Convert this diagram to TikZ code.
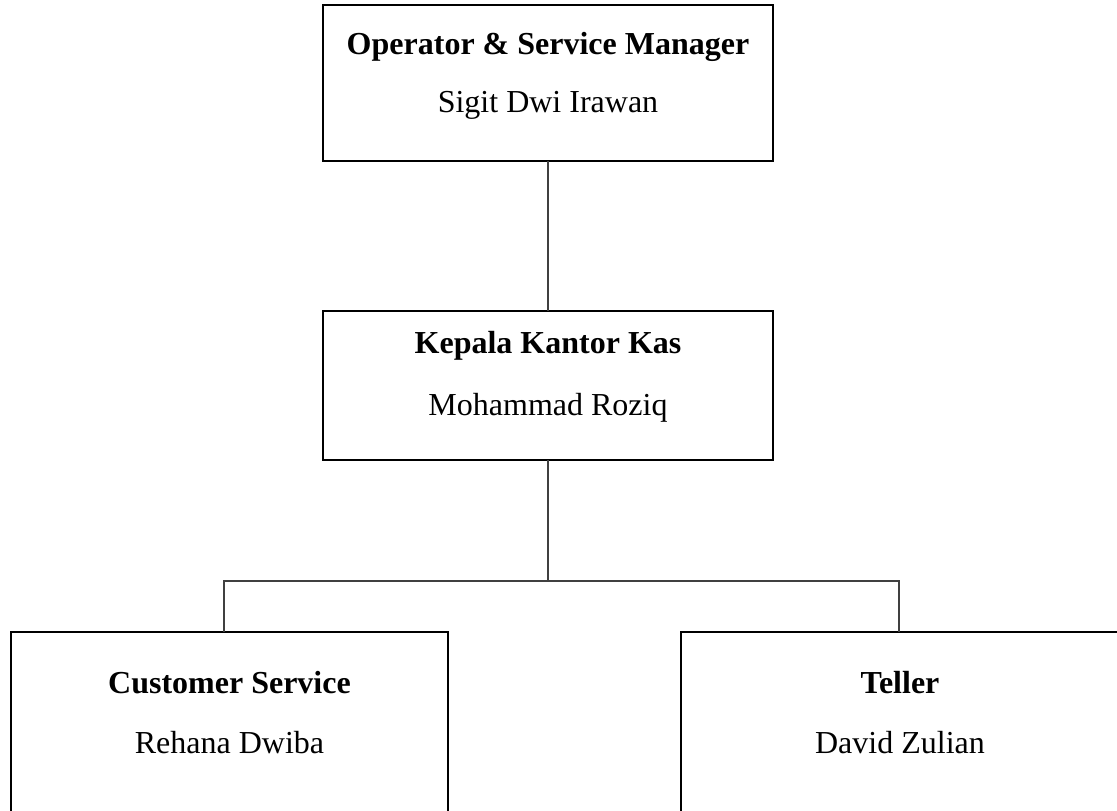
\documentclass[tikz,border=0pt]{standalone}
\usepackage{fontspec}
\setmainfont{Liberation Serif}
\tikzset{
  orgbox/.style={draw=black, line width=2.3pt, fill=none, inner sep=0pt, outer sep=0pt},
  conn/.style={draw=black!75, line width=1.1pt},
  titletext/.style={anchor=base, inner sep=0pt, font=\fontsize{32}{38}\selectfont\bfseries},
  nametext/.style={anchor=base, inner sep=0pt, font=\fontsize{32}{38}\selectfont},
}
\begin{document}
\begin{tikzpicture}[x=1pt, y=-1pt]
\useasboundingbox (0,0) rectangle (1117,811);
\clip (0,0) rectangle (1117,811);
% boxes
\node[orgbox, minimum width=450pt, minimum height=156pt] (osm) at (548,83) {};
\node[orgbox, minimum width=450pt, minimum height=149pt] (kkk) at (548,385.5) {};
\node[orgbox, minimum width=437pt, minimum height=300pt] (cs) at (229.5,782) {};
\node[orgbox, minimum width=437pt, minimum height=300pt] (tel) at (899.5,782) {};
% texts
\node[titletext] (osmT) at (548,54) {Operator \& Service Manager};
\node[nametext] (osmN) at (548,112) {Sigit Dwi Irawan};
\node[titletext] (kkkT) at (548,353) {Kepala Kantor Kas};
\node[nametext] (kkkN) at (548,415) {Mohammad Roziq};
\node[titletext] (csT) at (229.5,693) {Customer Service};
\node[nametext] (csN) at (229.5,753) {Rehana Dwiba};
\node[titletext] (telT) at (900,693) {Teller};
\node[nametext] (telN) at (900,753) {David Zulian};
% connectors
\coordinate (bus) at (548,581);
\coordinate (busL) at (224,581);
\coordinate (busR) at (899,581);
\draw[conn] (osm.south) -- (kkk.north);
\draw[conn] (kkk.south) -- (bus);
\draw[conn] (busL |- cs.north) -- (busL) -- (busR) -- (busR |- tel.north);
\end{tikzpicture}
\end{document}
